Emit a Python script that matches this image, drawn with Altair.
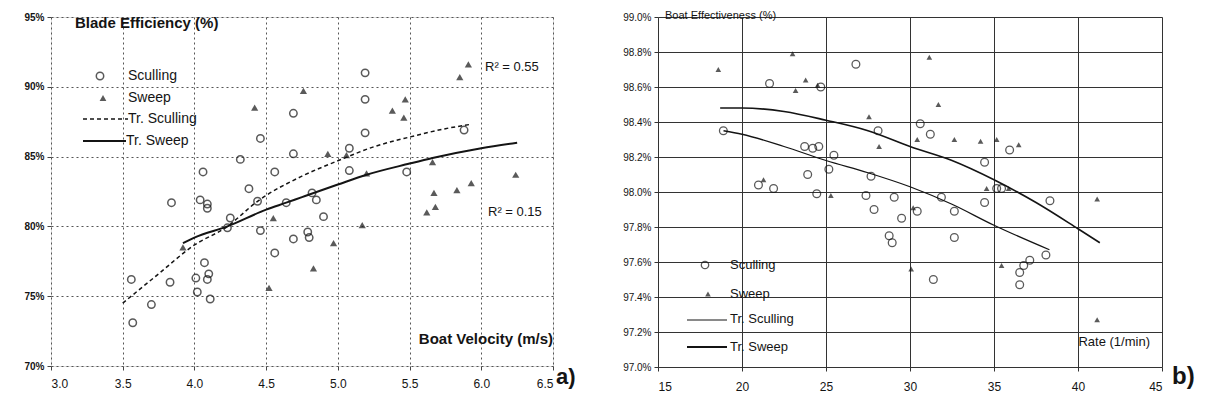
import altair as alt
import pandas as pd

# ---------------- Panel a: Blade efficiency vs boat velocity ----------------
a_scull_v = [3.56, 3.57, 3.70, 3.83, 3.84, 4.01, 4.02, 4.04, 4.06, 4.07,
             4.09, 4.09, 4.09, 4.10, 4.11, 4.23, 4.25, 4.32, 4.38, 4.44,
             4.46, 4.46, 4.56, 4.56, 4.64, 4.69, 4.69, 4.69, 4.79, 4.80,
             4.82, 4.85, 4.90, 5.08, 5.08, 5.19, 5.19, 5.19, 5.48, 5.88]
a_scull_eff = [76.2, 73.1, 74.4, 76.0, 81.7, 76.3, 75.3, 81.9, 83.9, 77.4,
               76.2, 81.6, 81.3, 76.6, 74.8, 79.9, 80.6, 84.8, 82.7, 81.8,
               86.3, 79.7, 83.9, 78.1, 81.7, 88.1, 85.2, 79.1, 79.6, 79.2,
               82.4, 81.9, 80.7, 85.6, 84.0, 91.0, 89.1, 86.7, 83.9, 86.9]
a_sweep_v = [3.92, 4.42, 4.52, 4.55, 4.76, 4.83, 4.93, 4.97, 5.06, 5.17,
             5.20, 5.38, 5.46, 5.47, 5.62, 5.66, 5.67, 5.68, 5.83, 5.85,
             5.91, 5.93, 6.24]
a_sweep_eff = [78.5, 88.5, 75.6, 80.6, 89.7, 77.0, 85.2, 78.8, 85.1, 80.1,
               83.8, 88.3, 87.8, 89.1, 81.0, 84.6, 82.4, 81.4, 82.6, 90.7,
               91.6, 83.1, 83.7]
a_tr_scull_v = [3.50, 3.75, 3.99, 4.23, 4.44, 4.75, 5.00, 5.25, 5.50, 5.75, 5.92]
a_tr_scull_eff = [74.5, 76.6, 78.6, 80.0, 81.8, 83.6, 84.7, 85.7, 86.4, 87.0, 87.3]
a_tr_sweep_v = [3.92, 4.00, 4.23, 4.50, 4.64, 4.75, 5.00, 5.20, 5.50, 5.66, 6.00, 6.25]
a_tr_sweep_eff = [78.8, 79.2, 80.0, 81.2, 81.7, 82.1, 83.0, 83.7, 84.5, 84.9, 85.6, 86.0]
a_x_ticks = [3.0, 3.5, 4.0, 4.5, 5.0, 5.5, 6.0, 6.5]
a_y_ticks = [70, 75, 80, 85, 90, 95]

# ---------------- Panel b: Boat effectiveness vs stroke rate ----------------
b_scull_rate = [18.89, 20.98, 21.64, 21.88, 23.73, 23.91, 24.21, 24.45, 24.57, 24.69,
                25.17, 25.47, 26.78, 27.38, 27.68, 27.86, 28.10, 28.76, 28.94, 29.06,
                29.50, 30.43, 30.61, 31.21, 31.39, 31.87, 32.64, 32.64, 34.44, 34.44,
                35.16, 35.45, 35.93, 36.53, 36.53, 36.77, 37.13, 38.09, 38.33]
b_scull_eff = [98.35, 98.04, 98.62, 98.02, 98.26, 98.10, 98.25, 97.99, 98.26, 98.60,
               98.13, 98.21, 98.73, 97.98, 98.09, 97.90, 98.35, 97.75, 97.71, 97.97,
               97.85, 97.89, 98.39, 98.33, 97.50, 97.97, 97.89, 97.74, 98.17, 97.94,
               98.02, 98.02, 98.24, 97.54, 97.47, 97.58, 97.61, 97.64, 97.95]
b_sweep_rate = [18.59, 21.28, 23.01, 23.19, 23.79, 24.50, 25.29, 27.56, 28.16, 30.07,
                30.19, 30.43, 31.15, 31.69, 32.64, 34.20, 34.56, 35.16, 35.45, 35.87,
                36.47, 41.14, 41.14]
b_sweep_eff = [98.70, 98.07, 98.79, 98.58, 98.64, 98.61, 97.98, 98.43, 98.26, 97.56,
               97.91, 98.30, 98.77, 98.50, 98.30, 98.29, 98.02, 98.30, 97.58, 98.02,
               98.27, 97.96, 97.27]
b_tr_scull_rate = [18.9, 20.0, 22.5, 25.0, 27.5, 30.0, 32.5, 35.0, 38.3]
b_tr_scull_eff = [98.35, 98.33, 98.26, 98.18, 98.11, 98.03, 97.93, 97.81, 97.67]
b_tr_sweep_rate = [18.7, 20.0, 22.5, 25.0, 27.5, 30.0, 32.5, 35.0, 37.5, 40.0, 41.3]
b_tr_sweep_eff = [98.48, 98.48, 98.46, 98.41, 98.35, 98.26, 98.18, 98.07, 97.94, 97.79, 97.71]
b_x_ticks = [15, 20, 25, 30, 35, 40, 45]
b_y_ticks = [97.0, 97.2, 97.4, 97.6, 97.8, 98.0, 98.2, 98.4, 98.6, 98.8, 99.0]

FONT = "Liberation Sans"
INK = "#141414"
W_A, H_A = 502, 349
W_B, H_B = 504, 350

one = pd.DataFrame({"k": [0]})


def txt(s, x, y, size=12, align="left", weight="normal"):
    return alt.Chart(one).mark_text(
        text=s, align=align, baseline="middle", font=FONT, fontSize=size,
        fontWeight=weight, color=INK
    ).encode(x=alt.value(x), y=alt.value(y))


# ---------------- build panel a ----------------
xa = alt.X("x:Q", scale=alt.Scale(domain=[3.0, 6.5], nice=False, zero=False),
           axis=alt.Axis(values=a_x_ticks, format=".1f", title=None, grid=True,
                         gridDash=[2, 3], gridColor="#555", gridWidth=1,
                         domain=False, tickSize=4, tickColor="#444",
                         labelFont=FONT, labelFontSize=12, labelColor=INK,
                         labelPadding=8))
ya = alt.Y("y:Q", scale=alt.Scale(domain=[70, 95], nice=False, zero=False),
           axis=alt.Axis(values=a_y_ticks, labelExpr="datum.value + '%'", title=None,
                         grid=True, gridDash=[2, 3], gridColor="#555", gridWidth=1,
                         domain=False, tickSize=4, tickColor="#444",
                         labelFont=FONT, labelFontSize=10, labelFontWeight="bold",
                         labelColor=INK, labelPadding=3))

a_sc = alt.Chart(pd.DataFrame({"x": a_scull_v, "y": a_scull_eff})).mark_point(
    shape="circle", filled=False, size=55, strokeWidth=1.5, color=INK).encode(x=xa, y=ya)
a_sw = alt.Chart(pd.DataFrame({"x": a_sweep_v, "y": a_sweep_eff})).mark_point(
    shape="triangle-up", filled=True, size=52, color=INK).encode(x=xa, y=ya)
a_tsc = alt.Chart(pd.DataFrame({"x": a_tr_scull_v, "y": a_tr_scull_eff})).mark_line(
    interpolate="monotone", strokeDash=[4, 3], strokeWidth=1.5, color=INK).encode(x=xa, y=ya)
a_tsw = alt.Chart(pd.DataFrame({"x": a_tr_sweep_v, "y": a_tr_sweep_eff})).mark_line(
    interpolate="monotone", strokeWidth=2.0, color=INK).encode(x=xa, y=ya)

a_leg = [
    alt.Chart(one).mark_point(shape="circle", filled=False, size=55, strokeWidth=1.5,
                              color=INK).encode(x=alt.value(49), y=alt.value(59)),
    alt.Chart(one).mark_point(shape="triangle-up", filled=True, size=45,
                              color=INK).encode(x=alt.value(52), y=alt.value(81)),
    alt.Chart(one).mark_rule(strokeDash=[4, 3], strokeWidth=1.5, color=INK).encode(
        x=alt.value(32), x2=alt.value(77), y=alt.value(102)),
    alt.Chart(one).mark_rule(strokeWidth=2.0, color=INK).encode(
        x=alt.value(32), x2=alt.value(75), y=alt.value(124)),
    txt("Sculling", 77, 59, 14),
    txt("Sweep", 77, 81, 14),
    txt("Tr. Sculling", 77, 102, 14),
    txt("Tr. Sweep", 75, 124, 14),
]
a_text = [
    txt("Blade Efficiency (%)", 24, 6, 15, weight="bold"),
    txt("Boat Velocity (m/s)", 502, 322, 15, align="right", weight="bold"),
    txt("R² = 0.55", 434, 50, 13),
    txt("R² = 0.15", 437, 195, 13),
    txt("a)", W_A + 3, H_A + 11, 22, weight="bold"),
]
panel_a = alt.layer(a_tsc, a_tsw, a_sc, a_sw, *a_leg, *a_text).properties(
    width=W_A, height=H_A)

# ---------------- build panel b ----------------
xb = alt.X("x:Q", scale=alt.Scale(domain=[15, 45], nice=False, zero=False),
           axis=alt.Axis(values=b_x_ticks, format="d", title=None, grid=True,
                         gridColor="#333", gridWidth=1, domain=False, tickSize=4,
                         tickColor="#333", labelFont=FONT, labelFontSize=12,
                         labelColor=INK, labelPadding=10))
yb = alt.Y("y:Q", scale=alt.Scale(domain=[97.0, 99.0], nice=False, zero=False),
           axis=alt.Axis(values=b_y_ticks, labelExpr="format(datum.value, '.1f') + '%'",
                         title=None, grid=True, gridColor="#333", gridWidth=1,
                         domain=False, tickSize=4, tickColor="#333",
                         labelFont=FONT, labelFontSize=10, labelColor=INK,
                         labelPadding=3))

b_sc = alt.Chart(pd.DataFrame({"x": b_scull_rate, "y": b_scull_eff})).mark_point(
    shape="circle", filled=False, size=60, strokeWidth=1.3, color=INK).encode(x=xb, y=yb)
b_sw = alt.Chart(pd.DataFrame({"x": b_sweep_rate, "y": b_sweep_eff})).mark_point(
    shape="triangle-up", filled=True, size=32, color=INK).encode(x=xb, y=yb)
b_tsc = alt.Chart(pd.DataFrame({"x": b_tr_scull_rate, "y": b_tr_scull_eff})).mark_line(
    interpolate="monotone", strokeWidth=1.3, color=INK).encode(x=xb, y=yb)
b_tsw = alt.Chart(pd.DataFrame({"x": b_tr_sweep_rate, "y": b_tr_sweep_eff})).mark_line(
    interpolate="monotone", strokeWidth=1.6, color=INK).encode(x=xb, y=yb)

b_leg = [
    alt.Chart(one).mark_point(shape="circle", filled=False, size=55, strokeWidth=1.3,
                              color=INK).encode(x=alt.value(47), y=alt.value(248)),
    alt.Chart(one).mark_point(shape="triangle-up", filled=True, size=32,
                              color=INK).encode(x=alt.value(50), y=alt.value(277)),
    alt.Chart(one).mark_rule(strokeWidth=1.0, color=INK).encode(
        x=alt.value(29), x2=alt.value(69), y=alt.value(303)),
    alt.Chart(one).mark_rule(strokeWidth=1.8, color=INK).encode(
        x=alt.value(29), x2=alt.value(69), y=alt.value(330)),
    txt("Sculling", 72, 248, 13),
    txt("Sweep", 72, 277, 13),
    txt("Tr. Sculling", 72, 302, 13),
    txt("Tr. Sweep", 72, 330, 13),
]
b_text = [
    txt("Boat Effectiveness (%)", 7, -1, 11),
    txt("Rate (1/min)", 492, 325, 13, align="right"),
    txt("b)", W_B + 10, H_B + 10, 24, weight="bold"),
]
panel_b = alt.layer(b_tsc, b_tsw, b_sc, b_sw, *b_leg, *b_text).properties(
    width=W_B, height=H_B)

chart = alt.hconcat(panel_a, panel_b, spacing=105, bounds="flush").properties(
    padding={"left": 15, "top": 1, "right": 0, "bottom": 0}
).configure_view(stroke="#333", strokeWidth=1.2).configure(background="white")

chart.save("out.html", embed_options={"renderer": "svg", "actions": False})
